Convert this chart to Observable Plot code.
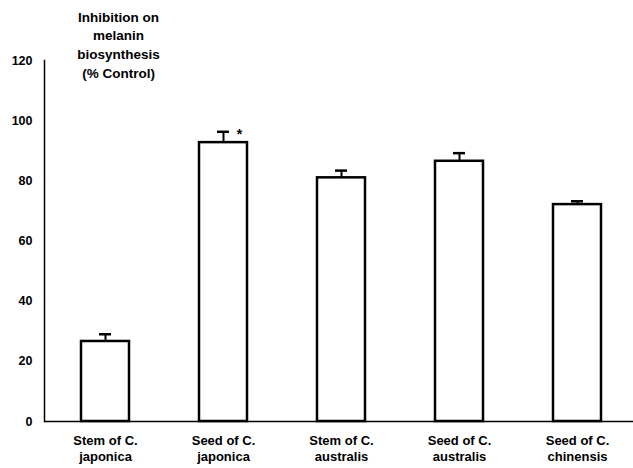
<!DOCTYPE html>
<html>
<head>
<meta charset="utf-8">
<script src="https://cdn.jsdelivr.net/npm/d3@7"></script>
<script src="https://cdn.jsdelivr.net/npm/@observablehq/plot@0.6"></script>
<style>
  html, body { margin: 0; padding: 0; background: #fff; }
  svg { font-family: "Liberation Sans", Arial, sans-serif; }
</style>
</head>
<body>
<div id="chart"></div>
<script>
const categories = ["Stem of C.\njaponica", "Seed of C.\njaponica", "Stem of C.\naustralis", "Seed of C.\naustralis", "Seed of C.\nchinensis"];
const values = [26.6, 92.7, 81.0, 86.5, 72.1];
const errors = [2.4, 3.6, 2.4, 2.7, 1.1];
const significance = ["", "*", "", "", ""];
const yTicks = [0, 20, 40, 60, 80, 100, 120];
const yTitle = "Inhibition on\nmelanin\nbiosynthesis\n(% Control)";

const data = categories.map((c, i) => ({cat: c, v: values[i], e: errors[i], top: values[i] + errors[i], sig: significance[i]}));

const chart = Plot.plot({
  width: 633,
  height: 468,
  marginTop: 60,
  marginBottom: 47,
  marginLeft: 44,
  marginRight: 0,
  style: {fontFamily: "'Liberation Sans', Arial, sans-serif", fontWeight: "bold", fontSize: "12px", background: "#fff", overflow: "visible"},
  x: {domain: categories, range: [44, 637], paddingInner: 0.595, paddingOuter: 0.2975, label: null},
  y: {domain: [0, 120], ticks: yTicks, label: null},
  marks: [
    Plot.axisY({ticks: yTicks, tickSize: 0, tickPadding: 12, fontSize: 12.5, fontWeight: "bold", fill: "#000"}),
    Plot.axisX({tickSize: 0, tickPadding: 11, fontSize: 13, fontWeight: "bold", lineHeight: 1.3, fill: "#000"}),
    Plot.ruleX(data, {x: "cat", y1: "v", y2: "top", stroke: "#000", strokeWidth: 2}),
    Plot.tickY(data, {x: "cat", y: "top", stroke: "#000", strokeWidth: 2.5, insetLeft: 18, insetRight: 18}),
    Plot.barY(data, {x: "cat", y: "v", fill: "#fff", stroke: "#000", strokeWidth: 2.5}),
    Plot.text(data, {x: "cat", y: "top", text: "sig", dx: 16, dy: 3, fontSize: 14, fontWeight: "bold", fill: "#000"}),
    Plot.ruleY([0], {stroke: "#000", strokeWidth: 1.5}),
    Plot.frame({anchor: "left", stroke: "#000", strokeWidth: 1.5}),
    Plot.text([yTitle], {frameAnchor: "top-left", dx: 74, dy: -52, text: d => d, textAnchor: "middle", lineAnchor: "top", lineHeight: 1.38, fontSize: 13.5, fontWeight: "bold", fill: "#000"})
  ]
});
document.getElementById("chart").appendChild(chart);
</script>
</body>
</html>
